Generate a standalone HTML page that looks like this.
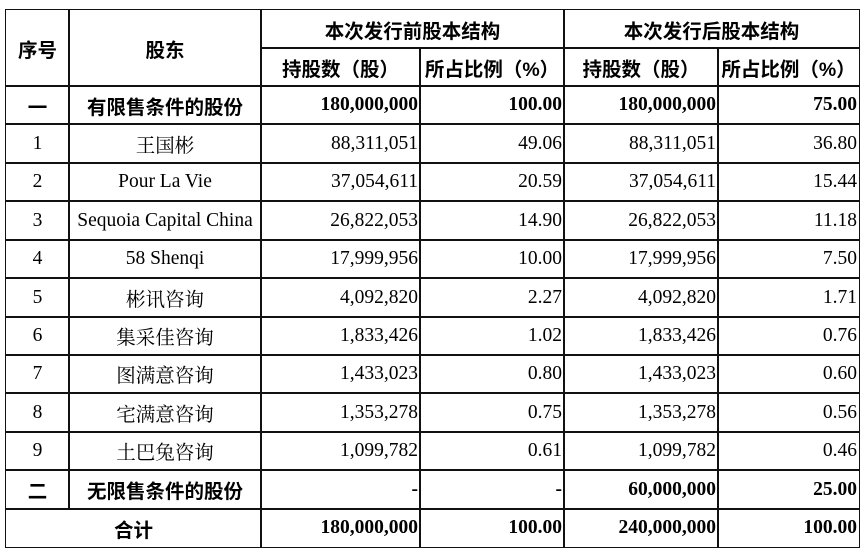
<!DOCTYPE html>
<html><head><meta charset="utf-8"><style>
body{margin:0;width:866px;height:554px;background:#fff;position:relative;overflow:hidden}
.c{position:absolute;box-sizing:border-box;border:1.6px solid #111;display:flex;align-items:center;font-size:19.5px;color:#000;white-space:nowrap}
.h{font-family:"Liberation Sans","Noto Sans CJK SC",sans-serif;font-weight:bold;justify-content:center}
.n{font-family:"Liberation Serif","Noto Serif CJK SC",serif;justify-content:flex-end;padding-right:2px}
.t{font-family:"Liberation Serif","Noto Serif CJK SC",serif;justify-content:center}
.b{font-weight:bold}
</style></head><body>
<div id="g"></div>
<script>
var X=[5,68,260,419,563,717,858];
var Y=[9,47,85];
for(var i=1;i<=12;i++)Y.push(Math.round(85+i*38.42));
var out='';
function cell(c1,c2,r1,r2,cls,txt){out+='<div class="c '+cls+'" style="left:'+X[c1]+'px;top:'+Y[r1]+'px;width:'+(X[c2]-X[c1]+2)+'px;height:'+(Y[r2]-Y[r1]+2)+'px">'+txt+'</div>';}
cell(0,1,0,2,'h','序号');cell(1,2,0,2,'h','股东');
cell(2,4,0,1,'h','本次发行前股本结构');cell(4,6,0,1,'h','本次发行后股本结构');
cell(2,3,1,2,'h','持股数（股）');cell(3,4,1,2,'h','所占比例（%）');
cell(4,5,1,2,'h','持股数（股）');cell(5,6,1,2,'h','所占比例（%）');
var rows=[
['一','有限售条件的股份','180,000,000','100.00','180,000,000','75.00',1],
['1','王国彬','88,311,051','49.06','88,311,051','36.80'],
['2','Pour La Vie','37,054,611','20.59','37,054,611','15.44'],
['3','Sequoia Capital China','26,822,053','14.90','26,822,053','11.18'],
['4','58 Shenqi','17,999,956','10.00','17,999,956','7.50'],
['5','彬讯咨询','4,092,820','2.27','4,092,820','1.71'],
['6','集采佳咨询','1,833,426','1.02','1,833,426','0.76'],
['7','图满意咨询','1,433,023','0.80','1,433,023','0.60'],
['8','宅满意咨询','1,353,278','0.75','1,353,278','0.56'],
['9','土巴兔咨询','1,099,782','0.61','1,099,782','0.46'],
['二','无限售条件的股份','-','-','60,000,000','25.00',1],
['合计',null,'180,000,000','100.00','240,000,000','100.00',1]];
rows.forEach(function(r,k){var ri=k+2;var b=r[6]?' b':'';
 if(r[1]===null){cell(0,2,ri,ri+1,'h',r[0]);}
 else{cell(0,1,ri,ri+1,r[6]?'h':'t',r[0]);cell(1,2,ri,ri+1,r[6]?'h':'t',r[1]);}
 for(var j=2;j<6;j++)cell(j,j+1,ri,ri+1,'n'+b,r[j]);});
document.getElementById('g').innerHTML=out;
</script>
</body></html>
